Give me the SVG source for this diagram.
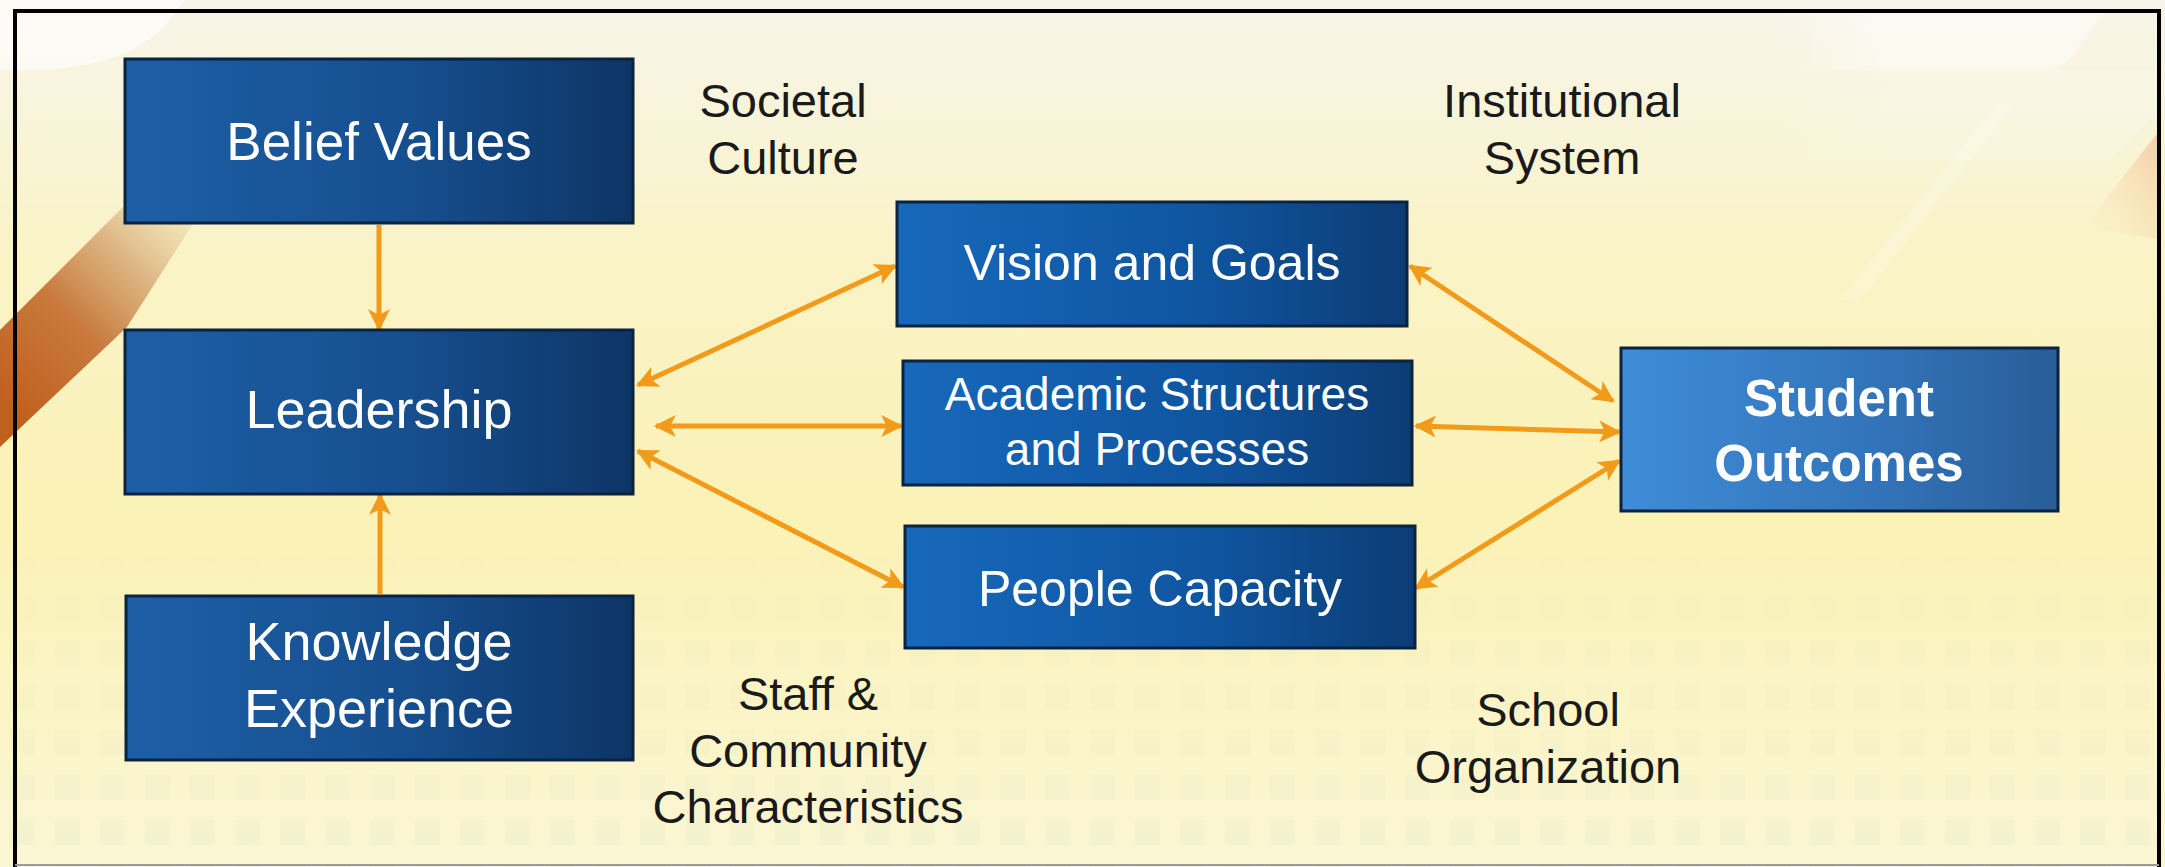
<svg xmlns="http://www.w3.org/2000/svg" width="2165" height="867" viewBox="0 0 2165 867">
<defs>
  <linearGradient id="bg" x1="0" y1="0" x2="0" y2="1">
    <stop offset="0" stop-color="#f7f5ea"/>
    <stop offset="0.3" stop-color="#faf3c6"/>
    <stop offset="0.6" stop-color="#fbf2b6"/>
    <stop offset="1" stop-color="#fbf6d4"/>
  </linearGradient>
  <linearGradient id="stripe" gradientUnits="userSpaceOnUse" x1="0" y1="400" x2="220" y2="180">
    <stop offset="0" stop-color="#c0601f"/>
    <stop offset="0.35" stop-color="#c87a3c"/>
    <stop offset="0.6" stop-color="#d9ad7a" stop-opacity="0.9"/>
    <stop offset="1" stop-color="#efe0b0" stop-opacity="0"/>
  </linearGradient>
  <linearGradient id="boxDark" x1="0" y1="0" x2="1" y2="0">
    <stop offset="0" stop-color="#1d5fa6"/>
    <stop offset="0.55" stop-color="#164f8f"/>
    <stop offset="1" stop-color="#0d3566"/>
  </linearGradient>
  <linearGradient id="boxMid" x1="0" y1="0" x2="1" y2="0">
    <stop offset="0" stop-color="#1768bb"/>
    <stop offset="0.6" stop-color="#0f55a0"/>
    <stop offset="1" stop-color="#0c3c74"/>
  </linearGradient>
  <linearGradient id="boxLight" x1="0" y1="0" x2="1" y2="0">
    <stop offset="0" stop-color="#3f8cd8"/>
    <stop offset="0.6" stop-color="#3273b8"/>
    <stop offset="1" stop-color="#285d98"/>
  </linearGradient>
  <linearGradient id="peach" x1="1" y1="0" x2="0" y2="1">
    <stop offset="0" stop-color="#f0a070" stop-opacity="0.5"/>
    <stop offset="1" stop-color="#f8e0b0" stop-opacity="0"/>
  </linearGradient>
  <linearGradient id="whiteFade" x1="0" y1="0" x2="1" y2="0">
    <stop offset="0" stop-color="#ffffff" stop-opacity="0"/>
    <stop offset="0.3" stop-color="#ffffff" stop-opacity="1"/>
    <stop offset="1" stop-color="#ffffff" stop-opacity="1"/>
  </linearGradient>
  <pattern id="sq" x="0" y="0" width="45" height="45" patternUnits="userSpaceOnUse">
    <rect x="10" y="10" width="25" height="25" fill="#a8c0b0"/>
  </pattern>
  <linearGradient id="fadeUp" x1="0" y1="0" x2="0" y2="1">
    <stop offset="0" stop-color="#fff" stop-opacity="0"/>
    <stop offset="1" stop-color="#fff" stop-opacity="1"/>
  </linearGradient>
  <mask id="sqMask">
    <rect x="0" y="520" width="2165" height="347" fill="url(#fadeUp)"/>
  </mask>
  <marker id="ah" viewBox="0 0 10 10" refX="9" refY="5" markerWidth="5" markerHeight="4.4" markerUnits="strokeWidth" orient="auto-start-reverse">
    <path d="M0,0 L10,5 L0,10 L2.5,5 Z" fill="#f29b1b"/>
  </marker>
</defs>
<style>
  .box { stroke: #0a2340; stroke-width: 3; }
  .wt { fill: #ffffff; font-family: "Liberation Sans", Arial, sans-serif; text-anchor: middle; }
  .lbl { fill: #1a1a1a; font-family: "Liberation Sans", Arial, sans-serif; font-size: 47px; text-anchor: middle; }
  .con { stroke: #f29b1b; stroke-width: 5; fill: none; marker-end: url(#ah); }
  .bi { marker-start: url(#ah); }
</style>

<!-- background -->
<rect x="0" y="0" width="2165" height="867" fill="url(#bg)"/>
<rect x="0" y="520" width="2165" height="347" fill="url(#sq)" opacity="0.07" mask="url(#sqMask)"/>
<polygon points="0,447 0,330 200,130 240,150 127,327" fill="url(#stripe)"/>
<path d="M0,70 Q120,75 165,25 L185,0 L0,0 Z" fill="#ffffff" opacity="0.6"/>
<path d="M1780,10 L2105,10 L2070,60 Q2060,70 2040,70 L1780,70 Z" fill="url(#whiteFade)" opacity="0.45"/>
<path d="M1780,70 L2160,70 L2160,110 L2110,160 L1780,160 Z" fill="url(#whiteFade)" opacity="0.18"/>
<polygon points="2000,100 2018,100 1860,300 1840,300" fill="#ffffff" opacity="0.2"/>
<polygon points="2160,130 2160,240 2085,225" fill="url(#peach)"/>

<!-- frame -->
<path d="M15,867 L15,11 L2159,11 L2159,867" fill="none" stroke="#000" stroke-width="4"/>
<line x1="15" y1="865" x2="2159" y2="865" stroke="#9a9a9a" stroke-width="2"/>

<!-- connectors -->
<g id="connectors">
  <line class="con" x1="379" y1="225" x2="379" y2="329"/>
  <line class="con" x1="380" y1="594" x2="380" y2="495"/>
  <line class="con bi" x1="638" y1="385" x2="895" y2="266"/>
  <line class="con bi" x1="656" y1="426" x2="901" y2="426"/>
  <line class="con bi" x1="638" y1="451" x2="903" y2="587"/>
  <line class="con bi" x1="1410" y1="266" x2="1613" y2="401"/>
  <line class="con bi" x1="1416" y1="426" x2="1619" y2="432"/>
  <line class="con bi" x1="1416" y1="588" x2="1619" y2="461"/>
</g>

<!-- nodes -->
<g id="belief-values">
  <rect class="box" x="125" y="59" width="508" height="164" fill="url(#boxDark)"/>
  <text class="wt" x="379" y="160" font-size="53">Belief Values</text>
</g>
<g id="leadership">
  <rect class="box" x="125" y="330" width="508" height="164" fill="url(#boxDark)"/>
  <text class="wt" x="379" y="428" font-size="54">Leadership</text>
</g>
<g id="knowledge-experience">
  <rect class="box" x="126" y="596" width="507" height="164" fill="url(#boxDark)"/>
  <text class="wt" x="379" y="660" font-size="54">Knowledge</text>
  <text class="wt" x="379" y="727" font-size="54">Experience</text>
</g>
<g id="vision-goals">
  <rect class="box" x="897" y="202" width="510" height="124" fill="url(#boxMid)"/>
  <text class="wt" x="1152" y="280" font-size="50">Vision and Goals</text>
</g>
<g id="academic">
  <rect class="box" x="903" y="361" width="509" height="124" fill="url(#boxMid)"/>
  <text class="wt" x="1157" y="410" font-size="46">Academic Structures</text>
  <text class="wt" x="1157" y="465" font-size="46">and Processes</text>
</g>
<g id="people-capacity">
  <rect class="box" x="905" y="526" width="510" height="122" fill="url(#boxMid)"/>
  <text class="wt" x="1160" y="606" font-size="50">People Capacity</text>
</g>
<g id="student-outcomes">
  <rect class="box" x="1621" y="348" width="437" height="163" fill="url(#boxLight)"/>
  <text class="wt" x="1839" y="416" font-size="51" font-weight="bold">Student</text>
  <text class="wt" x="1839" y="481" font-size="51" font-weight="bold">Outcomes</text>
</g>

<!-- labels -->
<g id="label-societal">
  <text class="lbl" x="783" y="117">Societal</text>
  <text class="lbl" x="783" y="174">Culture</text>
</g>
<g id="label-institutional">
  <text class="lbl" x="1562" y="117">Institutional</text>
  <text class="lbl" x="1562" y="174">System</text>
</g>
<g id="label-staff">
  <text class="lbl" x="808" y="710">Staff &amp;</text>
  <text class="lbl" x="808" y="767">Community</text>
  <text class="lbl" x="808" y="823">Characteristics</text>
</g>
<g id="label-school">
  <text class="lbl" x="1548" y="726">School</text>
  <text class="lbl" x="1548" y="783">Organization</text>
</g>
</svg>
